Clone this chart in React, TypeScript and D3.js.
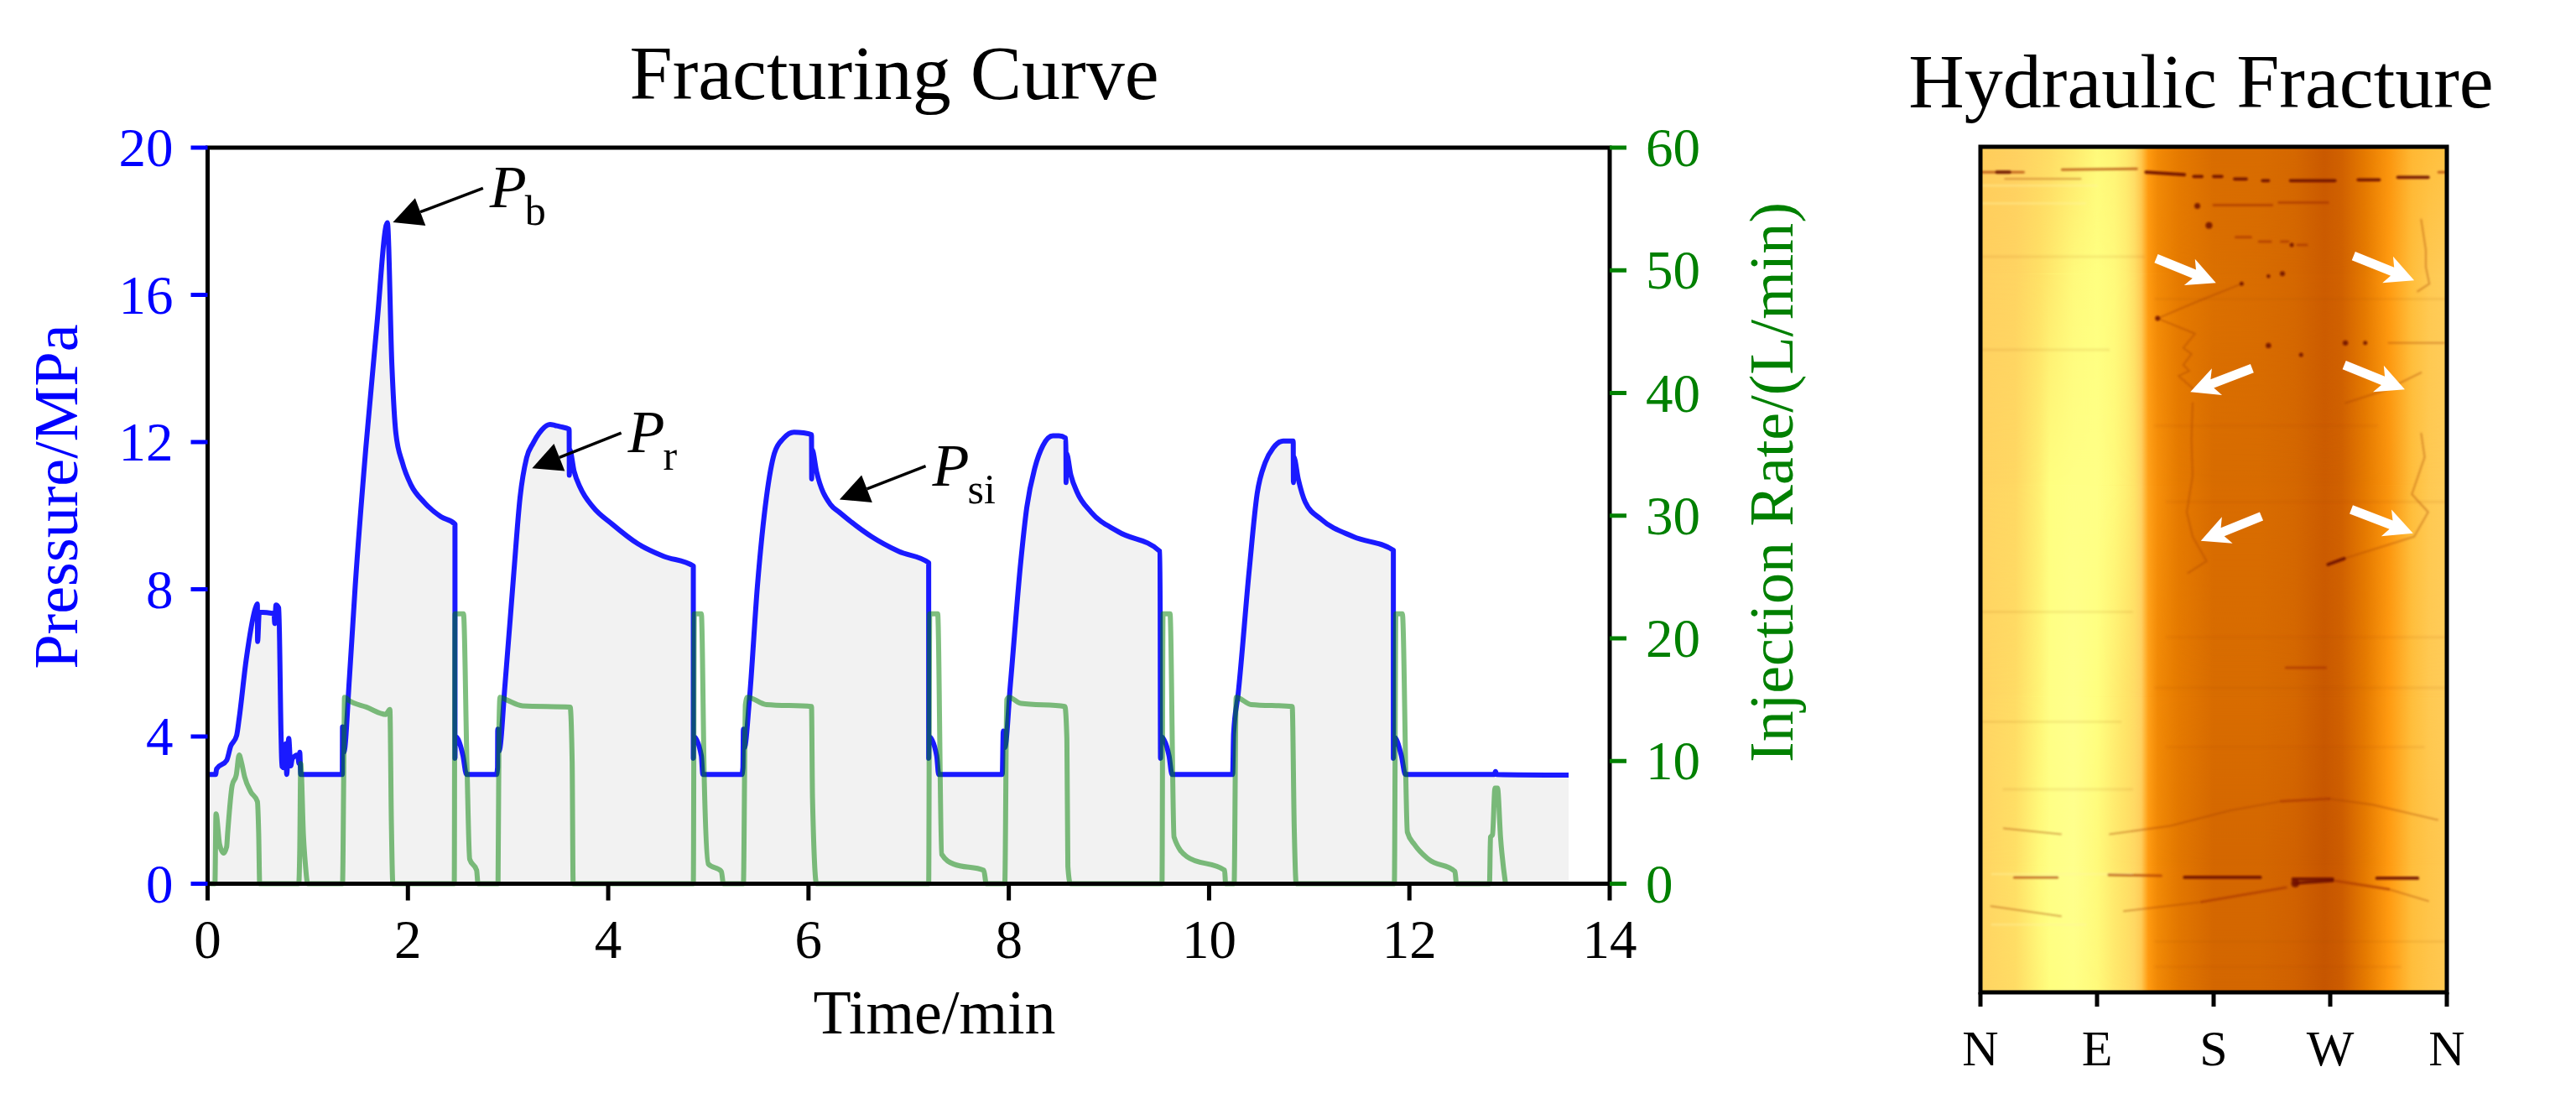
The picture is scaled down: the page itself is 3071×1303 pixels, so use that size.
import React from "react";
import * as d3 from "d3";

const W = 3071, H = 1303;
const SERIF = "'Liberation Serif','Times New Roman',serif";

const timeTicks = [0, 2, 4, 6, 8, 10, 12, 14];
const pressureTicks = [0, 4, 8, 12, 16, 20];
const rateTicks = [0, 10, 20, 30, 40, 50, 60];
const compassLabels = ["N", "E", "S", "W", "N"];

const pressureCurve: [number, number][] = [
  [0, 2.97], [0.08, 2.97], [0.09, 3.12], [0.19, 3.35], [0.23, 3.73], [0.29, 4.03], [0.315, 4.49], [0.385, 6.08],
  [0.483, 7.53], [0.497, 7.6], [0.499, 6.58], [0.516, 7.38], [0.664, 7.34], [0.67, 7.07], [0.683, 7.57], [0.71, 7.49],
  [0.734, 3.95], [0.742, 3.19], [0.765, 3.15], [0.78, 3.8], [0.79, 2.97], [0.81, 3.95], [0.83, 3.2], [0.845, 3.4],
  [0.9, 3.5], [0.912, 3.27], [0.92, 3.57], [0.93, 2.97],
  [1.345, 2.97], [1.347, 4.26], [1.36, 3.57], [1.417, 5.63], [1.474, 8.09], [1.58, 11.84], [1.69, 15.18], [1.795, 17.96],
  [1.84, 14.1], [1.88, 12.24], [1.945, 11.44], [2.03, 10.84], [2.16, 10.37], [2.33, 9.97], [2.47, 9.77],
  [2.47, 3.41], [2.473, 4.0], [2.55, 3.48], [2.585, 2.97],
  [2.885, 2.97], [2.895, 3.15], [2.897, 4.2], [2.91, 3.6], [2.97, 5.42], [3.055, 8.36], [3.12, 10.5], [3.185, 11.57], [3.25, 11.97], [3.31, 12.24],
  [3.42, 12.48], [3.47, 12.45], [3.52, 12.42], [3.61, 12.35], [3.612, 11.1], [3.615, 11.8], [3.66, 11.2], [3.72, 10.77], [3.85, 10.23], [4.04, 9.77], [4.3, 9.23], [4.55, 8.9], [4.85, 8.63],
  [4.85, 3.41], [4.853, 4.0], [4.93, 3.48], [4.945, 2.97],
  [5.335, 2.97], [5.345, 3.15], [5.35, 4.2], [5.36, 3.7], [5.41, 5.0], [5.49, 8.09], [5.58, 10.5], [5.66, 11.7], [5.75, 12.1], [5.855, 12.27], [5.95, 12.25],
  [6.03, 12.2], [6.032, 11.0], [6.035, 11.8], [6.08, 11.2], [6.22, 10.3], [6.305, 10.1], [6.63, 9.43], [6.9, 9.03], [7.2, 8.72],
  [7.2, 3.41], [7.203, 4.0], [7.28, 3.48], [7.3, 2.97],
  [7.935, 2.97], [7.945, 4.15], [7.96, 3.7], [8.016, 5.42], [8.12, 8.76], [8.18, 10.23], [8.26, 11.3], [8.34, 11.9], [8.44, 12.17], [8.5, 12.17],
  [8.57, 12.1], [8.572, 10.9], [8.575, 11.7], [8.62, 11.1], [8.68, 10.65], [8.82, 10.1], [9.09, 9.57], [9.51, 9.03],
  [9.515, 3.41], [9.518, 4.0], [9.6, 3.48], [9.63, 2.97],
  [10.235, 2.97], [10.245, 4.08], [10.29, 5.15], [10.4, 8.5], [10.48, 10.6], [10.56, 11.44], [10.64, 11.84], [10.74, 12.03],
  [10.84, 12.03], [10.842, 10.9], [10.845, 11.6], [10.89, 11.0], [10.96, 10.37], [11.12, 9.9], [11.44, 9.43], [11.84, 9.06],
  [11.84, 3.41], [11.843, 4.0], [11.92, 3.48], [11.96, 2.97],
  [12.85, 2.97], [12.86, 3.05], [12.87, 2.97], [13.59, 2.95],
];

const rateCurve: [number, number][] = [
  [0, 0], [0.073, 0], [0.084, 5.7], [0.12, 3.2], [0.16, 2.5], [0.19, 3], [0.2, 4.1], [0.245, 8], [0.287, 8.9], [0.315, 10.5],
  [0.335, 10], [0.37, 8.7], [0.43, 7.5], [0.497, 6.7], [0.51, 4.1], [0.52, 0],
  [0.91, 0], [0.92, 2.7], [0.93, 9.8], [0.957, 3.9], [0.976, 1.6], [1.0, 0],
  [1.347, 0], [1.36, 9.6], [1.367, 15.2], [1.417, 14.9], [1.584, 14.4], [1.78, 13.8], [1.82, 14.2], [1.835, 5], [1.85, 0],
  [2.463, 0], [2.47, 22], [2.555, 22], [2.59, 9.6], [2.617, 2], [2.686, 1.1], [2.7, 0],
  [2.9, 0], [2.91, 13], [2.92, 15.2], [2.98, 15], [3.145, 14.5], [3.62, 14.4], [3.64, 10], [3.65, 0],
  [4.85, 0], [4.86, 22], [4.93, 22], [4.96, 8.2], [5.0, 1.6], [5.13, 1], [5.15, 0],
  [5.35, 0], [5.37, 14.6], [5.39, 15.2], [5.58, 14.6], [6.03, 14.45], [6.04, 7], [6.08, 0],
  [7.2, 0], [7.21, 22], [7.29, 22], [7.33, 2.4], [7.45, 1.6], [7.75, 1.1], [7.775, 0],
  [7.96, 0], [7.98, 15], [8.0, 15.2], [8.12, 14.7], [8.56, 14.45], [8.58, 11.8], [8.59, 1.4], [8.615, 0],
  [9.53, 0], [9.54, 22], [9.61, 22], [9.65, 3.8], [9.78, 2.2], [10.155, 1.1], [10.165, 0],
  [10.25, 0], [10.27, 15.2], [10.42, 14.6], [10.83, 14.45], [10.85, 4.6], [10.87, 0],
  [11.85, 0], [11.865, 22], [11.93, 22], [11.98, 4.2], [12.05, 3.2], [12.19, 2], [12.455, 1], [12.47, 0],
  [12.8, 0], [12.81, 3.8], [12.83, 4], [12.855, 7.8], [12.88, 7.8], [12.91, 3.8], [12.96, 0],
];

// annotation [tailTime, tailPressure, tipTime, tipPressure]
const annotationArrows: [number, number, number, number][] = [
  [2.75, 18.9, 1.85, 17.97],
  [4.13, 12.25, 3.24, 11.29],
  [7.17, 11.35, 6.31, 10.44],
];
const annotationSubs = ["b", "r", "si"];

// borehole image: azimuth profiles (0..4 = N E S W N), value on the image colour scale
const profileDepths = [0.0, 0.15, 0.4, 0.65, 0.85, 1.0];
const profileAz = [0, 0.3, 0.5, 0.6, 0.8, 1.0, 1.15, 1.25, 1.32, 1.38, 1.44, 1.52, 1.7, 2.0, 2.4, 2.7, 2.95, 3.1, 3.3, 3.5, 3.7, 3.85, 4];
const profile0 = [0.64, 0.65, 0.67, 0.68, 0.71, 0.74, 0.73, 0.71, 0.68, 0.62, 0.55, 0.52, 0.49, 0.45, 0.45, 0.44, 0.41, 0.43, 0.49, 0.54, 0.59, 0.6, 0.61];
const profile1 = [0.65, 0.66, 0.69, 0.71, 0.74, 0.75, 0.74, 0.72, 0.69, 0.63, 0.55, 0.52, 0.49, 0.46, 0.45, 0.44, 0.42, 0.43, 0.49, 0.55, 0.6, 0.63, 0.64];
const profile2 = [0.66, 0.67, 0.72, 0.75, 0.76, 0.76, 0.74, 0.72, 0.7, 0.65, 0.56, 0.53, 0.49, 0.45, 0.45, 0.44, 0.42, 0.43, 0.49, 0.54, 0.6, 0.63, 0.64];
const profile3 = [0.66, 0.68, 0.73, 0.76, 0.77, 0.75, 0.72, 0.7, 0.68, 0.65, 0.56, 0.52, 0.49, 0.45, 0.45, 0.44, 0.41, 0.43, 0.49, 0.55, 0.6, 0.63, 0.64];
const profile4 = [0.66, 0.69, 0.74, 0.76, 0.77, 0.74, 0.71, 0.69, 0.67, 0.64, 0.55, 0.52, 0.48, 0.44, 0.44, 0.43, 0.4, 0.42, 0.49, 0.55, 0.6, 0.62, 0.63];
const profile5 = [0.66, 0.68, 0.73, 0.75, 0.76, 0.74, 0.71, 0.69, 0.67, 0.63, 0.55, 0.52, 0.48, 0.44, 0.44, 0.43, 0.4, 0.42, 0.49, 0.55, 0.6, 0.62, 0.63];
const profileRows = [profile0, profile1, profile2, profile3, profile4, profile5];
const colourValues = [0.38, 0.42, 0.45, 0.5, 0.55, 0.6, 0.65, 0.7, 0.75, 0.8];
const colourStops = ["#BF5000", "#CC5C00", "#D86C00", "#E87E00", "#FF9A10", "#FFBE3C", "#FFD060", "#FFE468", "#FFFF80", "#FFFFA0"];

type Poly = [number, number][];
const cracksDark: Poly[] = [
  [[0.14, 0.03], [0.25, 0.03]], [[1.42, 0.03], [1.75, 0.033]], [[1.83, 0.035], [1.9, 0.035]], [[2.0, 0.035], [2.07, 0.035]],
  [[2.18, 0.038], [2.28, 0.038]], [[2.42, 0.04], [2.47, 0.04]], [[2.66, 0.04], [3.04, 0.04]], [[3.24, 0.039], [3.42, 0.039]], [[3.58, 0.036], [3.84, 0.036]],
  [[1.75, 0.864], [2.4, 0.864]], [[2.68, 0.866], [3.02, 0.866]], [[3.4, 0.865], [3.75, 0.865]],
  [[2.7, 0.871], [3.02, 0.868]], [[2.98, 0.494], [3.12, 0.487]],
];
const cracksMid: Poly[] = [
  [[0.7, 0.027], [1.34, 0.026]], [[0, 0.03], [0.37, 0.03]], [[3.93, 0.03], [4, 0.03]],
  [[2.0, 0.069], [2.5, 0.069]], [[2.56, 0.066], [2.98, 0.066]],
  [[2.19, 0.107], [2.32, 0.107]], [[2.39, 0.112], [2.49, 0.112]], [[2.58, 0.112], [2.64, 0.112]], [[2.72, 0.116], [2.8, 0.116]],
  [[2.62, 0.616], [2.96, 0.616]], [[2.58, 0.774], [2.99, 0.771]],
  [[1.9, 0.893], [2.62, 0.876]], [[3.04, 0.868], [3.5, 0.878]],
  [[0.29, 0.864], [0.66, 0.864]], [[1.1, 0.861], [1.55, 0.862]],
];
const cracksFaint: Poly[] = [
  [[0.21, 0.038], [0.86, 0.038]],
  [[2.24, 0.162], [1.79, 0.187], [1.52, 0.203]],
  [[1.52, 0.203], [1.84, 0.221], [1.74, 0.238], [1.81, 0.245], [1.74, 0.258], [1.79, 0.265], [1.7, 0.271], [1.84, 0.288]],
  [[1.82, 0.303], [1.81, 0.346], [1.82, 0.389], [1.77, 0.432], [1.82, 0.461], [1.94, 0.49], [1.78, 0.504]],
  [[3.5, 0.232], [3.98, 0.232]],
  [[3.78, 0.086], [3.82, 0.122], [3.82, 0.142], [3.85, 0.162], [3.75, 0.171]],
  [[3.13, 0.303], [3.47, 0.288], [3.78, 0.267]],
  [[3.78, 0.339], [3.81, 0.367], [3.7, 0.411], [3.84, 0.432], [3.72, 0.461], [3.12, 0.487]],
  [[0.2, 0.806], [0.69, 0.813]], [[1.11, 0.813], [1.63, 0.803], [2.14, 0.785], [2.58, 0.774]], [[2.99, 0.771], [3.36, 0.778], [3.92, 0.796]],
  [[1.23, 0.904], [1.9, 0.893]], [[0.09, 0.898], [0.69, 0.91]], [[3.5, 0.878], [3.84, 0.892]],
];
const crackDots: [number, number, number][] = [
  [1.86, 0.07, 3.5], [1.96, 0.093, 4], [2.67, 0.116, 2.5], [2.59, 0.15, 3], [2.47, 0.153, 2.2], [2.24, 0.162, 2.5], [1.52, 0.203, 3],
  [2.47, 0.235, 3.2], [2.75, 0.246, 2.5], [3.13, 0.232, 3.2], [3.3, 0.232, 2.5], [2.7, 0.871, 5],
];
const lightStreaks: [number, number, number][] = [[0, 0.9, 0.067], [0.1, 1.3, 0.86], [0, 1.0, 0.046], [0.1, 0.9, 0.92]];
const darkStreaks: [number, number, number][] = [
  [0, 1.4, 0.13], [1.5, 4, 0.18], [0, 1.1, 0.24], [1.5, 3.4, 0.33], [1.6, 4, 0.42], [0, 1.3, 0.55], [1.6, 4, 0.58],
  [1.5, 4, 0.64], [0, 1.2, 0.68], [1.6, 3.8, 0.71], [0.2, 1.3, 0.76], [1.5, 4, 0.94], [1.5, 3.6, 0.97],
];

// white arrows [tailAz, tailDepth, tipAz, tipDepth]
const fractureArrows: [number, number, number, number][] = [
  [1.507, 0.132, 2.02, 0.161],
  [3.2, 0.129, 3.72, 0.158],
  [2.33, 0.262, 1.8, 0.29],
  [3.12, 0.258, 3.64, 0.287],
  [2.41, 0.437, 1.89, 0.466],
  [3.18, 0.429, 3.71, 0.457],
];

const imageColour = d3.scaleLinear<string>().domain(colourValues).range(colourStops).clamp(true);

const plot = { left: 247.5, right: 1919, top: 176, bottom: 1053.5 };
const img = { left: 2361, right: 2917, top: 175, bottom: 1183 };

const x = d3.scaleLinear().domain([0, 14]).range([plot.left, plot.right]);
const yP = d3.scaleLinear().domain([0, 20]).range([plot.bottom, plot.top]);
const yR = d3.scaleLinear().domain([0, 60]).range([plot.bottom, plot.top]);
const az = d3.scaleLinear().domain([0, 4]).range([img.left, img.right]);
const dp = d3.scaleLinear().domain([0, 1]).range([img.top, img.bottom]);

const pressureLine = d3.line<[number, number]>().curve(d3.curveMonotoneX).x(d => x(d[0])).y(d => yP(d[1]));
const rateLine = d3.line<[number, number]>().curve(d3.curveMonotoneX).x(d => x(d[0])).y(d => yR(d[1]));
const pressureArea = d3.area<[number, number]>().curve(d3.curveMonotoneX).x(d => x(d[0])).y0(yP(0)).y1(d => yP(d[1]));
const crackLine = d3.line<[number, number]>().x(d => az(d[0])).y(d => dp(d[1]));

function triangleArrow(x0: number, y0: number, x1: number, y1: number, len: number, wid: number) {
  const a = Math.atan2(y1 - y0, x1 - x0);
  const bx = x1 - len * Math.cos(a), by = y1 - len * Math.sin(a);
  const nx = -Math.sin(a) * wid / 2, ny = Math.cos(a) * wid / 2;
  return { bx, by, pts: `${x1},${y1} ${bx + nx},${by + ny} ${bx - nx},${by - ny}` };
}

function blockArrow(x0: number, y0: number, x1: number, y1: number) {
  const a = Math.atan2(y1 - y0, x1 - x0);
  const ux = Math.cos(a), uy = Math.sin(a), nx = -uy, ny = ux;
  const p = (l: number, s: number) => `${x0 + ux * l + nx * s},${y0 + uy * l + ny * s}`;
  const L = Math.hypot(x1 - x0, y1 - y0);
  return [p(0, 5.5), p(L - 28, 5.5), p(L - 34, 17), p(L, 0), p(L - 34, -17), p(L - 28, -5.5), p(0, -5.5)].join(" ");
}

export default function App() {
  const profileRects = profileDepths.slice(0, -1).map((d, i) => ({ d0: d, d1: profileDepths[i + 1] }));
  return (
    <svg width={W} height={H} viewBox={`0 0 ${W} ${H}`} style={{ position: "absolute", left: 0, top: 0, display: "block", background: "#fff" }} fontFamily={SERIF}>
      <defs>
        {profileRows.map((row, i) => (
          <linearGradient key={i} id={`prof${i}`} gradientUnits="userSpaceOnUse" x1={az(0)} x2={az(4)} y1={0} y2={0}>
            {row.map((v, j) => <stop key={j} offset={profileAz[j] / 4} stopColor={imageColour(v)} />)}
          </linearGradient>
        ))}
        <linearGradient id="fade" x1={0} x2={0} y1={0} y2={1}>
          <stop offset={0} stopColor="#fff" />
          <stop offset={1} stopColor="#000" />
        </linearGradient>
        {profileRects.map((r, i) => (
          <mask key={i} id={`mask${i}`} maskUnits="userSpaceOnUse" x={img.left} y={dp(r.d0)} width={img.right - img.left} height={dp(r.d1) - dp(r.d0) + 1}>
            <rect x={img.left} y={dp(r.d0)} width={img.right - img.left} height={dp(r.d1) - dp(r.d0) + 1} fill="url(#fade)" />
          </mask>
        ))}
        <clipPath id="imgClip"><rect x={img.left} y={img.top} width={img.right - img.left} height={img.bottom - img.top} /></clipPath>
        <filter id="soft" filterUnits="userSpaceOnUse" x={img.left - 10} y={img.top - 10} width={img.right - img.left + 20} height={img.bottom - img.top + 20}><feGaussianBlur stdDeviation="1.3" /></filter>
      </defs>

      {/* left chart */}
      <path d={pressureArea(pressureCurve)!} fill="#f2f2f2" />
      <path d={pressureLine(pressureCurve)!} fill="none" stroke="#1a1aff" strokeWidth={6} strokeLinejoin="round" />
      <path d={rateLine(rateCurve)!} fill="none" stroke="green" strokeOpacity={0.5} strokeWidth={6} strokeLinejoin="round" />

      <rect x={plot.left} y={plot.top} width={plot.right - plot.left} height={plot.bottom - plot.top} fill="none" stroke="#000" strokeWidth={5} />

      {timeTicks.map(t => (
        <g key={t}>
          <line x1={x(t)} x2={x(t)} y1={plot.bottom} y2={plot.bottom + 20} stroke="#000" strokeWidth={5} />
          <text x={x(t)} y={1142} textAnchor="middle" fontSize={65}>{t}</text>
        </g>
      ))}
      {pressureTicks.map(p => (
        <g key={p}>
          <line x1={plot.left} x2={plot.left - 20} y1={yP(p)} y2={yP(p)} stroke="#0000ff" strokeWidth={5} />
          <text x={plot.left - 41} y={yP(p) + 22} textAnchor="end" fontSize={65} fill="#0000ff">{p}</text>
        </g>
      ))}
      {rateTicks.map(r => (
        <g key={r}>
          <line x1={plot.right} x2={plot.right + 20} y1={yR(r)} y2={yR(r)} stroke="#008000" strokeWidth={5} />
          <text x={plot.right + 43} y={yR(r) + 22} fontSize={65} fill="#008000">{r}</text>
        </g>
      ))}

      <text x={1066} y={118} textAnchor="middle" fontSize={92}>Fracturing Curve</text>
      <text x={1114} y={1232} textAnchor="middle" fontSize={74}>Time/min</text>
      <text transform="translate(92,592) rotate(-90)" textAnchor="middle" fontSize={74} fill="#0000ff">Pressure/MPa</text>
      <text transform="translate(2137,575) rotate(-90)" textAnchor="middle" fontSize={74} fill="#008000">Injection Rate/(L/min)</text>

      {annotationArrows.map((a, i) => {
        const x0 = x(a[0]), y0 = yP(a[1]), x1 = x(a[2]), y1 = yP(a[3]);
        const h = triangleArrow(x0, y0, x1, y1, 35, 35);
        return (
          <g key={i}>
            <line x1={x0} y1={y0} x2={h.bx} y2={h.by} stroke="#000" strokeWidth={3.5} />
            <polygon points={h.pts} fill="#000" />
            <text x={x0 + 8} y={y0 + 23} fontSize={72} fontStyle="italic">P</text>
            <text x={x0 + 50} y={y0 + 44} fontSize={50}>{annotationSubs[i]}</text>
          </g>
        );
      })}

      {/* borehole image */}
      <text x={2624} y={128} textAnchor="middle" fontSize={92}>Hydraulic Fracture</text>
      <g clipPath="url(#imgClip)">
        {profileRects.map((r, i) => (
          <g key={i}>
            <rect x={img.left} y={dp(r.d0)} width={img.right - img.left} height={dp(r.d1) - dp(r.d0) + 1} fill={`url(#prof${i + 1})`} />
            <rect x={img.left} y={dp(r.d0)} width={img.right - img.left} height={dp(r.d1) - dp(r.d0) + 1} fill={`url(#prof${i})`} mask={`url(#mask${i})`} />
          </g>
        ))}
        <g filter="url(#soft)" strokeLinecap="round" fill="none">
          {lightStreaks.map((s, i) => (
            <line key={i} x1={az(s[0])} x2={az(s[1])} y1={dp(s[2])} y2={dp(s[2])} stroke="#fff2a0" strokeOpacity={0.4} strokeWidth={2.5} />
          ))}
          {darkStreaks.map((s, i) => (
            <line key={i} x1={az(s[0])} x2={az(s[1])} y1={dp(s[2])} y2={dp(s[2])} stroke="#a84000" strokeOpacity={0.1} strokeWidth={3} />
          ))}
          {cracksFaint.map((c, i) => <path key={i} d={crackLine(c)!} stroke="#a84000" strokeOpacity={0.42} strokeWidth={2} />)}
          {cracksMid.map((c, i) => <path key={i} d={crackLine(c)!} stroke="#a83400" strokeOpacity={0.65} strokeWidth={3} />)}
          {cracksDark.map((c, i) => <path key={i} d={crackLine(c)!} stroke="#6e1200" strokeOpacity={0.9} strokeWidth={3.8} />)}
          {crackDots.map((c, i) => <circle key={i} cx={az(c[0])} cy={dp(c[1])} r={c[2]} fill="#6e1200" fillOpacity={0.85} />)}
        </g>
        {fractureArrows.map((a, i) => (
          <polygon key={i} points={blockArrow(az(a[0]), dp(a[1]), az(a[2]), dp(a[3]))} fill="#fff" />
        ))}
      </g>
      <rect x={img.left} y={img.top} width={img.right - img.left} height={img.bottom - img.top} fill="none" stroke="#000" strokeWidth={5} />
      {compassLabels.map((l, i) => (
        <g key={i}>
          <line x1={az(i)} x2={az(i)} y1={img.bottom} y2={img.bottom + 17} stroke="#000" strokeWidth={5} />
          <text x={az(i)} y={1270} textAnchor="middle" fontSize={60}>{l}</text>
        </g>
      ))}
    </svg>
  );
}
